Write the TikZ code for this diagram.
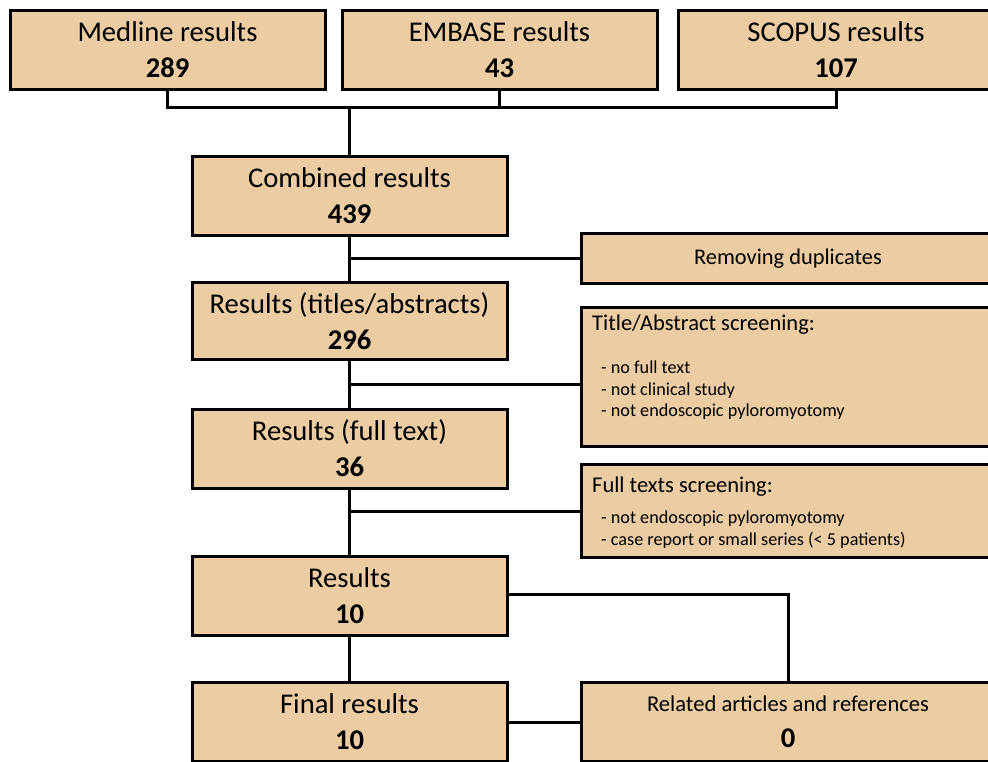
\documentclass[tikz,border=0pt]{standalone}
\usepackage{fontspec}
\setmainfont{Carlito}
\usetikzlibrary{calc}
\definecolor{boxfill}{RGB}{236,204,162}
\begin{document}
\begin{tikzpicture}[x=1pt,y=-1pt,
  box/.style={draw=black,line width=3pt,fill=boxfill,rectangle,minimum width=315pt,minimum height=79pt,inner sep=0pt,line join=miter},
  sidebox/.style={box,minimum width=413pt},
  conn/.style={draw=black,line width=3pt,line join=miter},
  main/.style={align=center,font=\fontsize{28.6}{36}\selectfont,inner sep=0pt},
  sidetitle/.style={anchor=west,inner sep=0pt,font=\fontsize{22.5}{25}\selectfont},
  sideitems/.style={anchor=north west,align=left,inner sep=0pt,font=\fontsize{18.2}{21.5}\selectfont}]
\useasboundingbox (0,0) rectangle (988,761);
\clip (0,0) rectangle (988,761);
\fill[white] (0,0) rectangle (988,761);
% top boxes
\node[box] (med) at (167.5,50) {};
\node[box] (emb) at (499.5,50) {};
\node[box] (sco) at (836,50) {};
\node[main] (medt) at (167.5,50) {Medline results\\\textbf{289}};
\node[main] (embt) at (499.5,50) {EMBASE results\\\textbf{43}};
\node[main] (scot) at (836,50) {SCOPUS results\\\textbf{107}};
% main column
\node[box] (comb) at (349.5,195.5) {};
\node[main] (combt) at (349.5,195.5) {Combined results\\\textbf{439}};
\node[box,minimum height=77pt] (tit) at (349.5,321) {};
\node[main] (titt) at (349.5,321) {Results (titles/abstracts)\\\textbf{296}};
\node[box] (full) at (349.5,448.5) {};
\node[main] (fullt) at (349.5,448.5) {Results (full text)\\\textbf{36}};
\node[box] (res) at (349.5,595.5) {};
\node[main] (rest) at (349.5,595.5) {Results\\\textbf{10}};
\node[box] (fin) at (349.5,722) {};
\node[main] (fint) at (349.5,722) {Final results\\\textbf{10}};
% side boxes
\node[sidebox,minimum height=50pt] (dup) at (788,258.5) {};
\node[inner sep=0pt,font=\fontsize{22.4}{24}\selectfont] (dupt) at (788,258.5) {Removing duplicates};
\node[sidebox,minimum height=139pt] (ta) at (788,377) {};
\node[sidetitle] (tat) at (592,325) {Title/Abstract screening:};
\node[sideitems] (tai) at (601,361) {- no full text\\- not clinical study\\- not endoscopic pyloromyotomy};
\node[sidebox,minimum height=93pt] (ft) at (788,511) {};
\node[sidetitle] (ftt) at (592,487) {Full texts screening:};
\node[sideitems] (fti) at (601,511) {- not endoscopic pyloromyotomy\\- case report or small series (< 5 patients)};
\node[sidebox] (rel) at (788,722) {};
\node[main] (relt) at (788,722) {{\fontsize{22.6}{24}\selectfont Related articles and references}\\\textbf{0}};
% connectors
\coordinate (j1) at (349.5,107.5);
\draw[conn] (med.south) |- (sco.south |- j1) -- (sco.south);
\draw[conn] (emb.south) -- (emb.south |- j1);
\draw[conn] (j1) -- (comb.north);
\draw[conn] (comb.south) -- (tit.north);
\draw[conn] (comb.south |- dup.west) -- (dup.west);
\draw[conn] (tit.south) -- (full.north);
\coordinate (j2) at (349.5,384);
\draw[conn] (j2) -- (ta.west |- j2);
\draw[conn] (full.south) -- (res.north);
\draw[conn] (full.south |- ft.west) -- (ft.west);
\coordinate (j3) at (508,594);
\draw[conn] (res.east |- j3) -| (rel.north);
\draw[conn] (res.south) -- (fin.north);
\draw[conn] (fin.east) -- (rel.west);
\end{tikzpicture}
\end{document}
